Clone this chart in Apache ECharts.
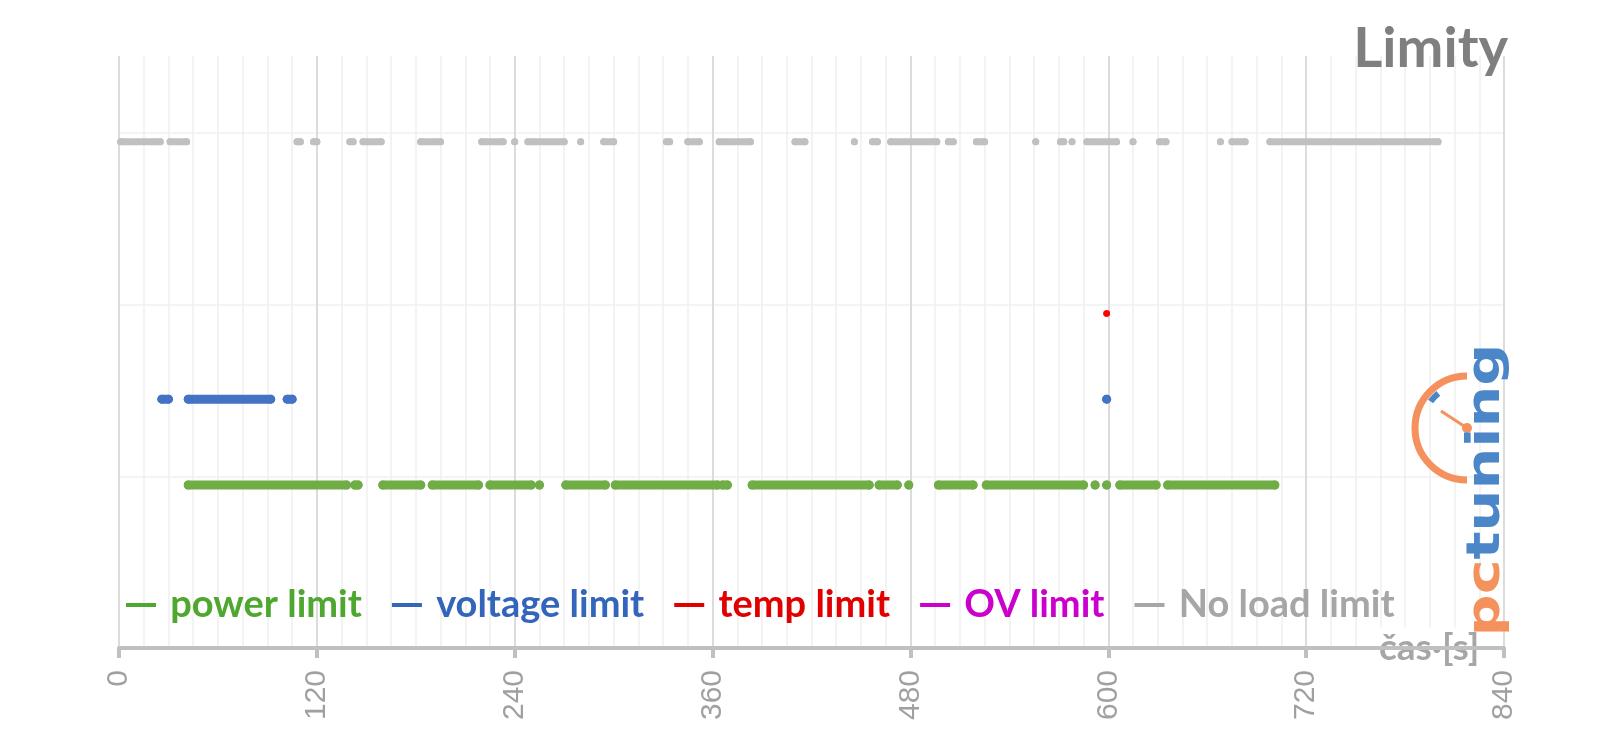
<!DOCTYPE html>
<html>
<head>
<meta charset="utf-8">
<title>Limity</title>
<script src="https://cdn.jsdelivr.net/npm/echarts@6.0.0/dist/echarts.min.js"></script>
<style>
  html, body { margin: 0; padding: 0; background: #fff; }
  #chart { width: 1600px; height: 745px; }
</style>
</head>
<body>
<div id="chart"></div>
<script>
// x: time in seconds, each run = [from, to] where the limit was active
const xTicks = [0, 120, 240, 360, 480, 600, 720, 840];

const powerRuns = [[42, 138], [143, 145], [160, 183], [190, 218], [225, 250], [255, 255],
  [271, 295], [301, 363], [366, 369], [384, 455], [461, 472], [479, 479], [497, 518],
  [526, 585], [592, 592], [599, 599], [607, 629], [636, 701]];
const voltageRuns = [[26, 30], [42, 92], [102, 105], [599, 599]];
const tempRuns = [[599, 599]];
const ovRuns = [];
const noLoadRuns = [[1, 25], [31, 41], [108, 110], [118, 120], [140, 142], [148, 159],
  [183, 195], [220, 233], [240, 240], [248, 270], [280, 280], [294, 300], [332, 334],
  [345, 352], [364, 383], [410, 416], [446, 446], [457, 460], [468, 496], [503, 506],
  [520, 525], [556, 556], [571, 573], [578, 578], [587, 605], [615, 615], [631, 635],
  [668, 668], [675, 683], [698, 800]];

// row level of each limit on the y axis
const seriesNames = ['power limit', 'voltage limit', 'temp limit', 'OV limit', 'No load limit'];
const rowLevels = [0.95, 1.45, 1.95, 2.45, 2.95];
const allRuns = [powerRuns, voltageRuns, tempRuns, ovRuns, noLoadRuns];

const dotColors = ['#70ad47', '#4472c4', '#ff0000', '#cc00cc', '#c0c0c0'];
const textColors = ['#4ea72e', '#3366bb', '#e00000', '#cc00cc', '#a6a6a6'];
const dotSizes = [9, 9, 6.5, 7, 7];

function runsToLine(runs, y) {
  const out = [];
  runs.forEach(r => {
    out.push([r[0], y]);
    out.push([r[1], y]);
    out.push([r[1], '-']);
  });
  return out;
}

const series = seriesNames.map((name, i) => ({
  name: name,
  type: 'line',
  data: runsToLine(allRuns[i], rowLevels[i]),
  connectNulls: false,
  symbol: 'circle',
  symbolSize: dotSizes[i],
  showSymbol: true,
  showAllSymbol: true,
  lineStyle: { width: dotSizes[i], color: dotColors[i], cap: 'round' },
  itemStyle: { color: dotColors[i], borderWidth: 0 },
  emphasis: { disabled: true },
  animation: false
}));

const chart = echarts.init(document.getElementById('chart'));
chart.setOption({
  animation: false,
  title: {
    text: 'Limity',
    right: 92,
    top: 21,
    padding: 0,
    textStyle: { fontFamily: 'Lato', fontWeight: 'bold', fontSize: 56, color: '#7f7f7f' }
  },
  legend: {
    left: 126,
    top: 585,
    padding: 0,
    itemGap: 30,
    itemWidth: 30,
    itemHeight: 4,
    icon: 'rect',
    formatter: n => ' ' + n,
    textStyle: { fontFamily: 'Lato', fontWeight: 'bold', fontSize: 38, lineHeight: 40 },
    data: seriesNames.map((n, i) => ({
      name: n,
      itemStyle: { color: textColors[i] },
      textStyle: { color: textColors[i] }
    }))
  },
  grid: { left: 119, right: 96, top: 56, bottom: 97 },
  xAxis: {
    type: 'value',
    min: xTicks[0],
    max: xTicks[xTicks.length - 1],
    interval: 120,
    name: 'čas·[s]',
    nameLocation: 'end',
    nameGap: -128,
    nameTextStyle: {
      fontFamily: 'Lato', fontWeight: 'bold', fontSize: 37, color: '#a6a6a6',
      backgroundColor: '#fff', padding: [0, 3, 4, 3], verticalAlign: 'middle'
    },
    axisLine: { show: true, lineStyle: { color: '#c0c0c0', width: 4 } },
    axisTick: { show: true, length: 10, lineStyle: { color: '#c0c0c0', width: 4 } },
    axisLabel: {
      rotate: 90, margin: 22, fontFamily: 'Liberation Sans', fontSize: 30, color: '#a0a0a0'
    },
    splitLine: { show: true, lineStyle: { color: '#dcdcdc', width: 2 } },
    minorTick: { show: false, splitNumber: 8 },
    minorSplitLine: { show: true, lineStyle: { color: '#f0f0f0', width: 1.5 } }
  },
  yAxis: {
    type: 'value',
    min: 0,
    max: 3.45,
    interval: 1,
    axisLine: { show: false },
    axisTick: { show: false },
    axisLabel: { show: false },
    splitLine: { show: true, showMaxLine: false, lineStyle: { color: '#f0f0f0', width: 1.5 } }
  },
  graphic: [
    {
      type: 'arc',
      shape: { cx: 1467, cy: 428, r: 52, startAngle: Math.PI / 2, endAngle: Math.PI * 1.5, clockwise: true },
      style: { stroke: '#f4915c', lineWidth: 7, fill: null },
      z: 10
    },
    {
      type: 'arc',
      shape: { cx: 1467, cy: 428, r: 45, startAngle: Math.PI * 1.2, endAngle: Math.PI * 1.28, clockwise: true },
      style: { stroke: '#4a86c8', lineWidth: 6, fill: null },
      z: 11
    },
    {
      type: 'line',
      shape: { x1: 1441, y1: 411, x2: 1467, y2: 428 },
      style: { stroke: '#f4915c', lineWidth: 3 },
      z: 10
    },
    {
      type: 'circle',
      shape: { cx: 1467, cy: 428, r: 5 },
      style: { fill: '#f4915c' },
      z: 10
    },
    {
      type: 'text',
      x: 1487,
      y: 490,
      rotation: Math.PI / 2,
      scaleX: 1.4,
      scaleY: 1.1,
      z: 10,
      style: {
        text: '{a|pc}{b|tuning}',
        align: 'center',
        verticalAlign: 'middle',
        rich: {
          a: { fontFamily: 'DejaVu Sans', fontWeight: 'bold', fontSize: 42, fill: '#f4915c' },
          b: { fontFamily: 'DejaVu Sans', fontWeight: 'bold', fontSize: 42, fill: '#4a86c8' }
        }
      }
    }
  ],
  series: series
});
</script>
</body>
</html>
